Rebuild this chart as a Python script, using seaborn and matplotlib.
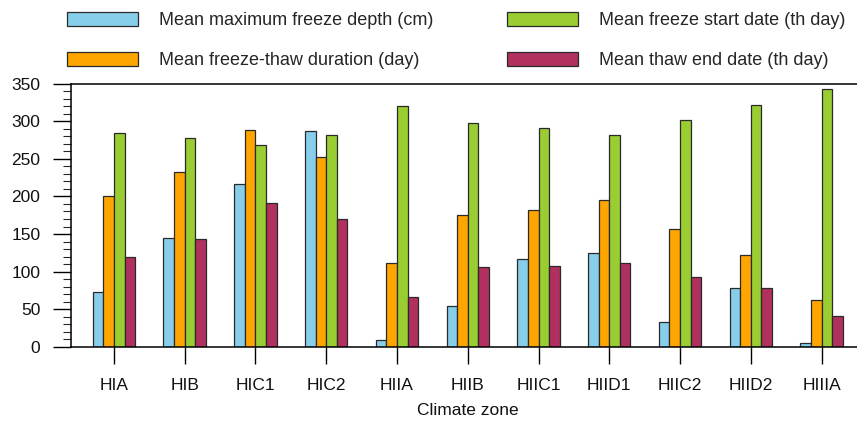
import matplotlib
matplotlib.use("Agg")
import matplotlib.pyplot as plt
from matplotlib.patches import Patch
from matplotlib.ticker import MultipleLocator
import numpy as np
import pandas as pd
import seaborn as sns

# Climate zones and the four freeze-thaw indicators per zone
zones = ["HIA", "HIB", "HIC1", "HIC2", "HIIA", "HIIB", "HIIC1", "HIID1", "HIIC2", "HIID2", "HIIIA"]
freeze_depth = [73, 145, 216, 287, 9, 54, 117, 125, 33, 79, 5]
freeze_thaw_duration = [200, 233, 288, 252, 112, 175, 182, 195, 157, 122, 63]
freeze_start = [284, 277, 268, 282, 320, 297, 291, 282, 301, 321, 343]
thaw_end = [119, 144, 191, 170, 67, 106, 107, 112, 93, 78, 41]

series_names = [
    "Mean maximum freeze depth (cm)",
    "Mean freeze-thaw duration (day)",
    "Mean freeze start date (th day)",
    "Mean thaw end date (th day)",
]
series_values = [freeze_depth, freeze_thaw_duration, freeze_start, thaw_end]
colors = ["#87CEEB", "#FFA500", "#9ACD32", "#B03060"]

df = pd.DataFrame({
    "zone": np.tile(zones, len(series_names)),
    "series": np.repeat(series_names, len(zones)),
    "value": np.concatenate(series_values),
})

sns.set_theme(style="white")
plt.rcParams["font.family"] = ["Liberation Sans", "DejaVu Sans"]

W, H = 857, 421
fig = plt.figure(figsize=(W / 100, H / 100), dpi=100)
# axes box in pixel terms: left 71, top 83.5, bottom 347, right beyond the canvas
left, right, top, bottom = 71, 864, 83.5, 347
ax = fig.add_axes([left / W, 1 - bottom / H, (right - left) / W, (bottom - top) / H])

sns.barplot(
    data=df, x="zone", y="value", hue="series",
    order=zones, hue_order=series_names, palette=colors,
    width=0.6, saturation=1, edgecolor="#2a2a2a", linewidth=0.9,
    legend=False, ax=ax,
)

ax.set_xlim(-0.607, 10.6)
ax.set_ylim(0, 350)
ax.yaxis.set_major_locator(MultipleLocator(50))
ax.yaxis.set_minor_locator(MultipleLocator(10))

for side in ["left", "bottom", "top"]:
    ax.spines[side].set_visible(True)
    ax.spines[side].set_linewidth(1.1)
    ax.spines[side].set_color("black")
ax.spines["right"].set_visible(False)

ax.tick_params(axis="y", which="major", direction="out", length=13, width=1.0,
               labelsize=12.5, pad=9, left=True, colors="black")
ax.tick_params(axis="y", which="minor", direction="out", length=6, width=0.8, left=True)
ax.tick_params(axis="x", which="major", direction="out", length=12.5, width=1.0,
               labelsize=12.5, pad=10, bottom=True, colors="black")
ax.tick_params(labelcolor="#111111")

ax.set_xlabel("Climate zone", fontsize=12.5, color="#111111", labelpad=7)
ax.set_ylabel("")
ax.grid(False)

handles = [Patch(facecolor=c, edgecolor="#2a2a2a", linewidth=0.9) for c in colors]
fig.legend(
    handles, series_names, ncol=2, frameon=False, fontsize=13,
    loc="upper left", bbox_to_anchor=(67 / W, 1 - 12 / H),
    borderpad=0, borderaxespad=0, handlelength=3.93, handleheight=0.83,
    handletextpad=1.16, columnspacing=4.1, labelspacing=1.25,
)

fig.savefig("out.png", dpi=100)
